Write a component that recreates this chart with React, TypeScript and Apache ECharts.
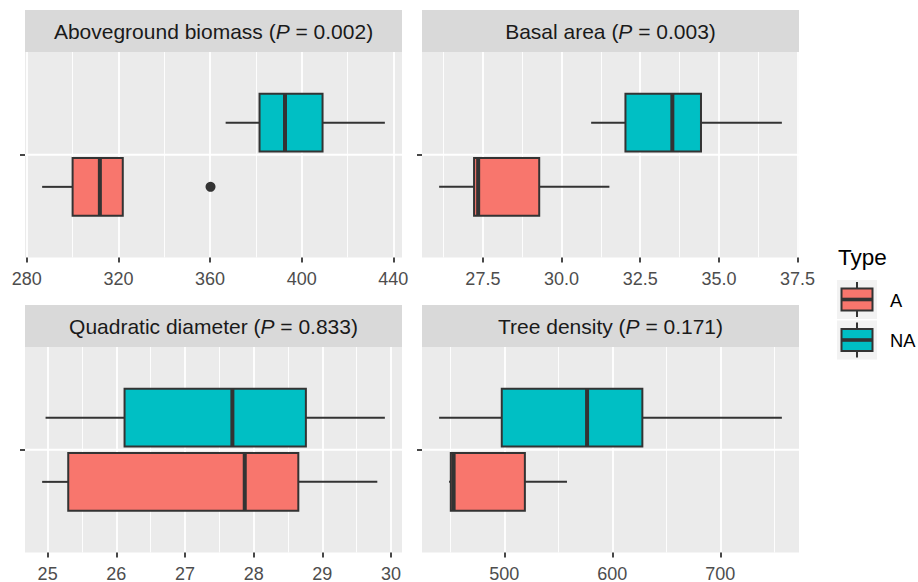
import React, { useEffect, useRef } from 'react';
import * as echarts from 'echarts';

// ---------------- data ----------------
const panelNames = ['Aboveground biomass', 'Basal area', 'Quadratic diameter', 'Tree density'];
const pValues = ['0.002', '0.003', '0.833', '0.171'];
const typeNames = ['A', 'NA'];
// [lower whisker, Q1, median, Q3, upper whisker] per panel
const statsA = [
  [286.7, 300.0, 311.9, 321.9, 321.9],
  [26.11, 27.22, 27.35, 29.29, 31.52],
  [24.92, 25.3, 27.87, 28.65, 29.8],
  [448.8, 450.4, 453.0, 519.0, 558.0],
];
const statsNA = [
  [366.8, 381.6, 392.7, 409.1, 436.3],
  [30.94, 32.03, 33.52, 34.43, 37.0],
  [24.97, 26.12, 27.69, 28.76, 29.91],
  [439.6, 497.6, 576.6, 627.8, 757.0],
];
const outliersA = [[360.2], [], [], []];
const outliersNA = [[], [], [], []];
const majorTicks = [
  [280, 320, 360, 400, 440],
  [27.5, 30, 32.5, 35, 37.5],
  [25, 26, 27, 28, 29, 30],
  [500, 600, 700],
];
const minorTicks = [
  [300, 340, 380, 420],
  [26.25, 28.75, 31.25, 33.75, 36.25],
  [25.5, 26.5, 27.5, 28.5, 29.5],
  [450, 550, 650, 750],
];
const tickDecimals = [0, 1, 0, 0];

// ---------------- style ----------------
const FONT = '"Liberation Sans", Arial, Helvetica, sans-serif';
const FILLS = ['#F8766D', '#00BFC4'];
const LINE = '#333333';
const GRID_LEFT = [25, 422, 25, 422];
const GRID_TOP = [52, 52, 347, 347];
const GRID_W = 377;
const GRID_H = 205.5;
const STRIP_H = 42;
const DODGE = 0.1875;
const HALF = 0.16875;

function extentOf(i: number) {
  const vals = [...statsA[i], ...statsNA[i], ...outliersA[i], ...outliersNA[i]];
  const lo = Math.min(...vals);
  const hi = Math.max(...vals);
  const pad = (hi - lo) * 0.05;
  return [lo - pad, hi + pad];
}

const renderBox = (params: any, api: any) => {
  const lo = api.value(0);
  const q1 = api.value(1);
  const md = api.value(2);
  const q3 = api.value(3);
  const hi = api.value(4);
  const yv = api.value(5);
  const t = api.value(6);
  const pQ1 = api.coord([q1, yv]);
  const yc = pQ1[1];
  const half = Math.abs(api.size([0, HALF])[1]);
  const xLo = api.coord([lo, yv])[0];
  const xQ1 = pQ1[0];
  const xMd = api.coord([md, yv])[0];
  const xQ3 = api.coord([q3, yv])[0];
  const xHi = api.coord([hi, yv])[0];
  const children: any[] = [];
  if (params.dataIndex === 0) {
    const cs = params.coordSys;
    const yMid = api.coord([lo, 1])[1];
    children.push({
      type: 'line',
      shape: { x1: cs.x, y1: yMid, x2: cs.x + cs.width, y2: yMid },
      style: { stroke: '#FFFFFF', lineWidth: 1.8 },
    });
  }
  const ls = { stroke: LINE, lineWidth: 2 };
  children.push({ type: 'line', shape: { x1: xLo, y1: yc, x2: xQ1, y2: yc }, style: ls });
  children.push({ type: 'line', shape: { x1: xQ3, y1: yc, x2: xHi, y2: yc }, style: ls });
  children.push({
    type: 'rect',
    shape: { x: xQ1, y: yc - half, width: xQ3 - xQ1, height: 2 * half },
    style: { fill: FILLS[t], stroke: LINE, lineWidth: 2 },
  });
  children.push({
    type: 'line',
    shape: { x1: xMd, y1: yc - half, x2: xMd, y2: yc + half },
    style: { stroke: LINE, lineWidth: 4 },
  });
  return { type: 'group', children };
};

function buildOption() {
  const grid: any[] = [];
  const xAxis: any[] = [];
  const yAxis: any[] = [];
  const series: any[] = [];
  const graphic: any[] = [];

  for (let i = 0; i < 4; i++) {
    grid.push({
      left: GRID_LEFT[i],
      top: GRID_TOP[i],
      width: GRID_W,
      height: GRID_H,
      containLabel: false,
      outerBoundsMode: 'none',
      show: true,
      backgroundColor: '#EBEBEB',
      borderWidth: 0,
    });
  }
  for (let i = 0; i < 4; i++) {
    const [mn, mx] = extentOf(i);
    const dec = tickDecimals[i];
    xAxis.push({
      type: 'value',
      gridIndex: i,
      min: mn,
      max: mx,
      axisLine: { show: false },
      axisTick: {
        show: true,
        customValues: majorTicks[i],
        length: 5,
        lineStyle: { color: LINE, width: 1.8 },
      },
      axisLabel: {
        show: true,
        customValues: majorTicks[i],
        formatter: (v: number) => v.toFixed(dec),
        color: '#4D4D4D',
        fontSize: 18,
        fontFamily: FONT,
        margin: 12,
        hideOverlap: false,
      },
      splitLine: { show: true, lineStyle: { color: '#FFFFFF', width: 1.8 } },
      z: 2,
    });
  }
  for (let i = 0; i < 4; i++) {
    const [mn, mx] = extentOf(i);
    xAxis.push({
      type: 'value',
      gridIndex: i,
      min: mn,
      max: mx,
      position: 'top',
      axisLine: { show: false },
      axisTick: { show: false, customValues: minorTicks[i] },
      axisLabel: { show: false },
      splitLine: { show: true, lineStyle: { color: '#FFFFFF', width: 0.9 } },
      z: 1,
    });
  }
  for (let i = 0; i < 4; i++) {
    yAxis.push({
      type: 'value',
      gridIndex: i,
      min: 0.4,
      max: 1.6,
      axisLine: { show: false },
      axisTick: {
        show: true,
        customValues: [1],
        length: 5,
        lineStyle: { color: LINE, width: 1.8 },
      },
      axisLabel: { show: false },
      splitLine: { show: false },
    });
  }

  for (let i = 0; i < 4; i++) {
    series.push({
      type: 'custom',
      xAxisIndex: i,
      yAxisIndex: i,
      renderItem: renderBox,
      encode: { x: [0, 1, 2, 3, 4], y: 5 },
      data: [
        [...statsA[i], 1 - DODGE, 0],
        [...statsNA[i], 1 + DODGE, 1],
      ],
      z: 3,
    });
    const pts = [
      ...outliersA[i].map((v) => [v, 1 - DODGE]),
      ...outliersNA[i].map((v) => [v, 1 + DODGE]),
    ];
    if (pts.length) {
      series.push({
        type: 'scatter',
        xAxisIndex: i,
        yAxisIndex: i,
        data: pts,
        symbol: 'circle',
        symbolSize: 10,
        itemStyle: { color: LINE, opacity: 1 },
        z: 4,
      });
    }

    // strip
    graphic.push({
      type: 'rect',
      shape: { x: GRID_LEFT[i], y: GRID_TOP[i] - STRIP_H, width: GRID_W, height: STRIP_H },
      style: { fill: '#D9D9D9' },
      silent: true,
    });
    const txtStyle = { fontSize: 21, fontFamily: FONT, fill: '#1A1A1A' };
    graphic.push({
      type: 'text',
      x: GRID_LEFT[i] + GRID_W / 2,
      y: GRID_TOP[i] - STRIP_H / 2,
      style: {
        text: `{n|${panelNames[i]} (}{i|P}{n| = ${pValues[i]})}`,
        align: 'center',
        verticalAlign: 'middle',
        rich: {
          n: { ...txtStyle },
          i: { ...txtStyle, fontStyle: 'italic' },
        },
      },
      silent: true,
    });
  }

  // legend
  graphic.push({
    type: 'text',
    x: 838,
    y: 257,
    style: { text: 'Type', fontSize: 22.5, fontFamily: FONT, fill: '#000000', verticalAlign: 'middle' },
  });
  for (let k = 0; k < typeNames.length; k++) {
    const top = 280 + k * 40.5;
    const cx = 857;
    graphic.push({
      type: 'group',
      children: [
        { type: 'rect', shape: { x: 837, y: top, width: 40, height: 39 }, style: { fill: '#F2F2F2' } },
        { type: 'line', shape: { x1: cx, y1: top + 2, x2: cx, y2: top + 8.5 }, style: { stroke: LINE, lineWidth: 2 } },
        { type: 'line', shape: { x1: cx, y1: top + 30.5, x2: cx, y2: top + 37 }, style: { stroke: LINE, lineWidth: 2 } },
        {
          type: 'rect',
          shape: { x: 841.5, y: top + 8.5, width: 31, height: 22 },
          style: { fill: FILLS[k], stroke: LINE, lineWidth: 2 },
        },
        { type: 'line', shape: { x1: 841.5, y1: top + 19.5, x2: 872.5, y2: top + 19.5 }, style: { stroke: LINE, lineWidth: 3.6 } },
        {
          type: 'text',
          x: 890,
          y: top + 20,
          style: { text: typeNames[k], fontSize: 18.3, fontFamily: FONT, fill: '#000000', verticalAlign: 'middle' },
        },
      ],
    });
  }

  return {
    animation: false,
    backgroundColor: '#FFFFFF',
    textStyle: { fontFamily: FONT },
    grid,
    xAxis,
    yAxis,
    series,
    graphic,
  };
}

export default function App() {
  const ref = useRef<HTMLDivElement>(null);
  useEffect(() => {
    if (!ref.current) return;
    const chart = echarts.init(ref.current, undefined, { renderer: 'svg' });
    chart.setOption(buildOption() as any);
    return () => chart.dispose();
  }, []);
  return (
    <div
      ref={ref}
      style={{ position: 'absolute', left: 0, top: 0, width: 918, height: 582, background: '#FFFFFF' }}
    />
  );
}
